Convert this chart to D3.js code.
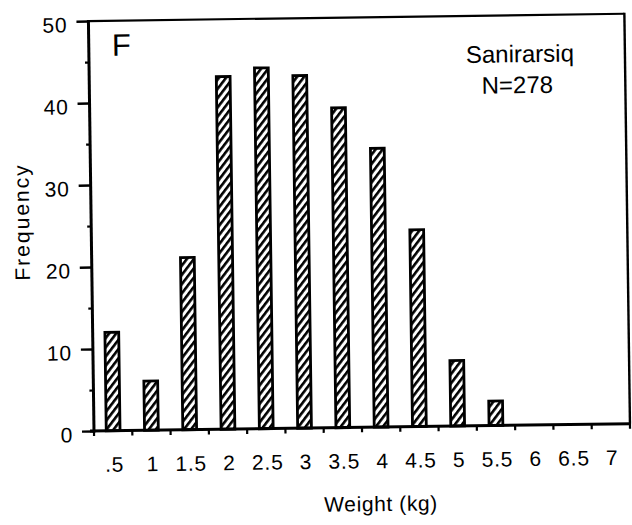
<!DOCTYPE html>
<html><head><meta charset="utf-8">
<script src="https://cdn.jsdelivr.net/npm/d3@7"></script>
<style>body{margin:0;background:#fff}svg{display:block}</style>
</head><body>
<svg id="chart" width="632" height="525"></svg>
<script>
// ---- data ----
const categories = [".5","1","1.5","2","2.5","3","3.5","4","4.5","5","5.5","6","6.5","7"];
const frequency  = [12, 6, 21, 43, 44, 43, 39, 34, 24, 8, 3, 0, 0, 0];
const yMajorTicks = [0, 10, 20, 30, 40, 50];
const yMinorTicks = [5, 15, 25, 35, 45];
const panelLabel = "F";
const legendLines = ["Sanirarsiq", "N=278"];
const xTitle = "Weight (kg)";
const yTitle = "Frequency";

// ---- layout ----
const L = 94, R = 630, T = 21, B = 431;
const FONT = "'Liberation Sans', Arial, Helvetica, sans-serif";

const svg = d3.select("#chart");
svg.append("rect").attr("width", 632).attr("height", 525).attr("fill", "#fff");

const defs = svg.append("defs");
const pat = defs.append("pattern").attr("id", "hatch")
  .attr("patternUnits", "userSpaceOnUse")
  .attr("width", 5.6).attr("height", 10)
  .attr("patternTransform", "rotate(38)");
pat.append("rect").attr("width", 5.6).attr("height", 10).attr("fill", "#fff");
pat.append("rect").attr("x", 0).attr("y", 0).attr("width", 2.6).attr("height", 10).attr("fill", "#000");

const g = svg.append("g").attr("transform", `rotate(-0.78,${L},${B})`);

const x = d3.scaleBand().domain(categories).range([L, R]).padding(0);
const xBar = d3.scaleBand().domain(categories).range([L, R]).paddingInner(0.64).paddingOuter(0.32);
const y = d3.scaleLinear().domain([0, 50]).range([B, T]);

const data = categories.map((c, i) => ({c, v: frequency[i]}));

// bars
g.selectAll("rect.bar").data(data.filter(d => d.v > 0)).join("rect")
  .attr("class", "bar")
  .attr("x", d => xBar(d.c))
  .attr("width", xBar.bandwidth())
  .attr("y", d => y(d.v))
  .attr("height", d => y(0) - y(d.v))
  .attr("fill", "url(#hatch)")
  .attr("stroke", "#000")
  .attr("stroke-width", 2.8);

// frame
g.append("line").attr("x1", L).attr("x2", R).attr("y1", T).attr("y2", T).attr("stroke", "#000").attr("stroke-width", 2.2);
g.append("line").attr("x1", R).attr("x2", R).attr("y1", T - 1).attr("y2", B).attr("stroke", "#000").attr("stroke-width", 2.4);
g.append("line").attr("x1", L).attr("x2", L).attr("y1", T - 1).attr("y2", B + 1.5).attr("stroke", "#000").attr("stroke-width", 3);
g.append("line").attr("x1", L - 4).attr("x2", R + 1).attr("y1", B).attr("y2", B).attr("stroke", "#000").attr("stroke-width", 3);

// y axis
const yAxis = d3.axisLeft(y).tickValues(yMajorTicks).tickSize(12).tickPadding(9).tickFormat(d3.format("d"));
const ya = g.append("g").attr("transform", `translate(${L},0)`).call(yAxis);
ya.select(".domain").remove();
ya.selectAll(".tick line").attr("stroke", "#000").attr("stroke-width", 2.4);
ya.selectAll(".tick text").attr("font-family", FONT).attr("font-size", 21).attr("fill", "#000")
  .attr("dy", "0.5em").attr("letter-spacing", 0.8);
const yMinor = d3.axisLeft(y).tickValues(yMinorTicks).tickSize(4).tickFormat("");
const ym = g.append("g").attr("transform", `translate(${L},0)`).call(yMinor);
ym.select(".domain").remove();
ym.selectAll(".tick line").attr("stroke", "#000").attr("stroke-width", 2.2);

// x ticks at bin boundaries
const bounds = categories.map(c => x(c)).concat([R]);
g.selectAll("line.xt").data(bounds).join("line").attr("class", "xt")
  .attr("x1", d => d).attr("x2", d => d).attr("y1", B).attr("y2", B + 5)
  .attr("stroke", "#000").attr("stroke-width", 2.2);

// x labels at bin centers
g.selectAll("text.xl").data(categories).join("text").attr("class", "xl")
  .attr("x", d => x(d) + x.bandwidth() / 2 + 1)
  .attr("y", 472)
  .attr("text-anchor", "middle")
  .attr("font-family", FONT).attr("font-size", 21).attr("letter-spacing", 0.8)
  .attr("fill", "#000")
  .text(d => d);

// axis titles
g.append("text").attr("x", 380).attr("y", 515).attr("text-anchor", "middle")
  .attr("font-family", FONT).attr("font-size", 21).attr("letter-spacing", 0.6).attr("fill", "#000").text(xTitle);
g.append("text").attr("transform", "translate(32,221) rotate(-90)").attr("text-anchor", "middle")
  .attr("font-family", FONT).attr("font-size", 21).attr("letter-spacing", 2).attr("fill", "#000").text(yTitle);

// panel label
g.append("text").attr("x", 117).attr("y", 56).attr("font-family", FONT).attr("font-size", 31)
  .attr("fill", "#000").text(panelLabel);

// legend text
g.selectAll("text.lg").data(legendLines).join("text").attr("class", "lg")
  .attr("x", (d, i) => i === 0 ? 525 : 522)
  .attr("y", (d, i) => i === 0 ? 68 : 99)
  .attr("text-anchor", "middle")
  .attr("font-family", FONT).attr("font-size", 24).attr("fill", "#000")
  .text(d => d);
</script>
</body></html>
